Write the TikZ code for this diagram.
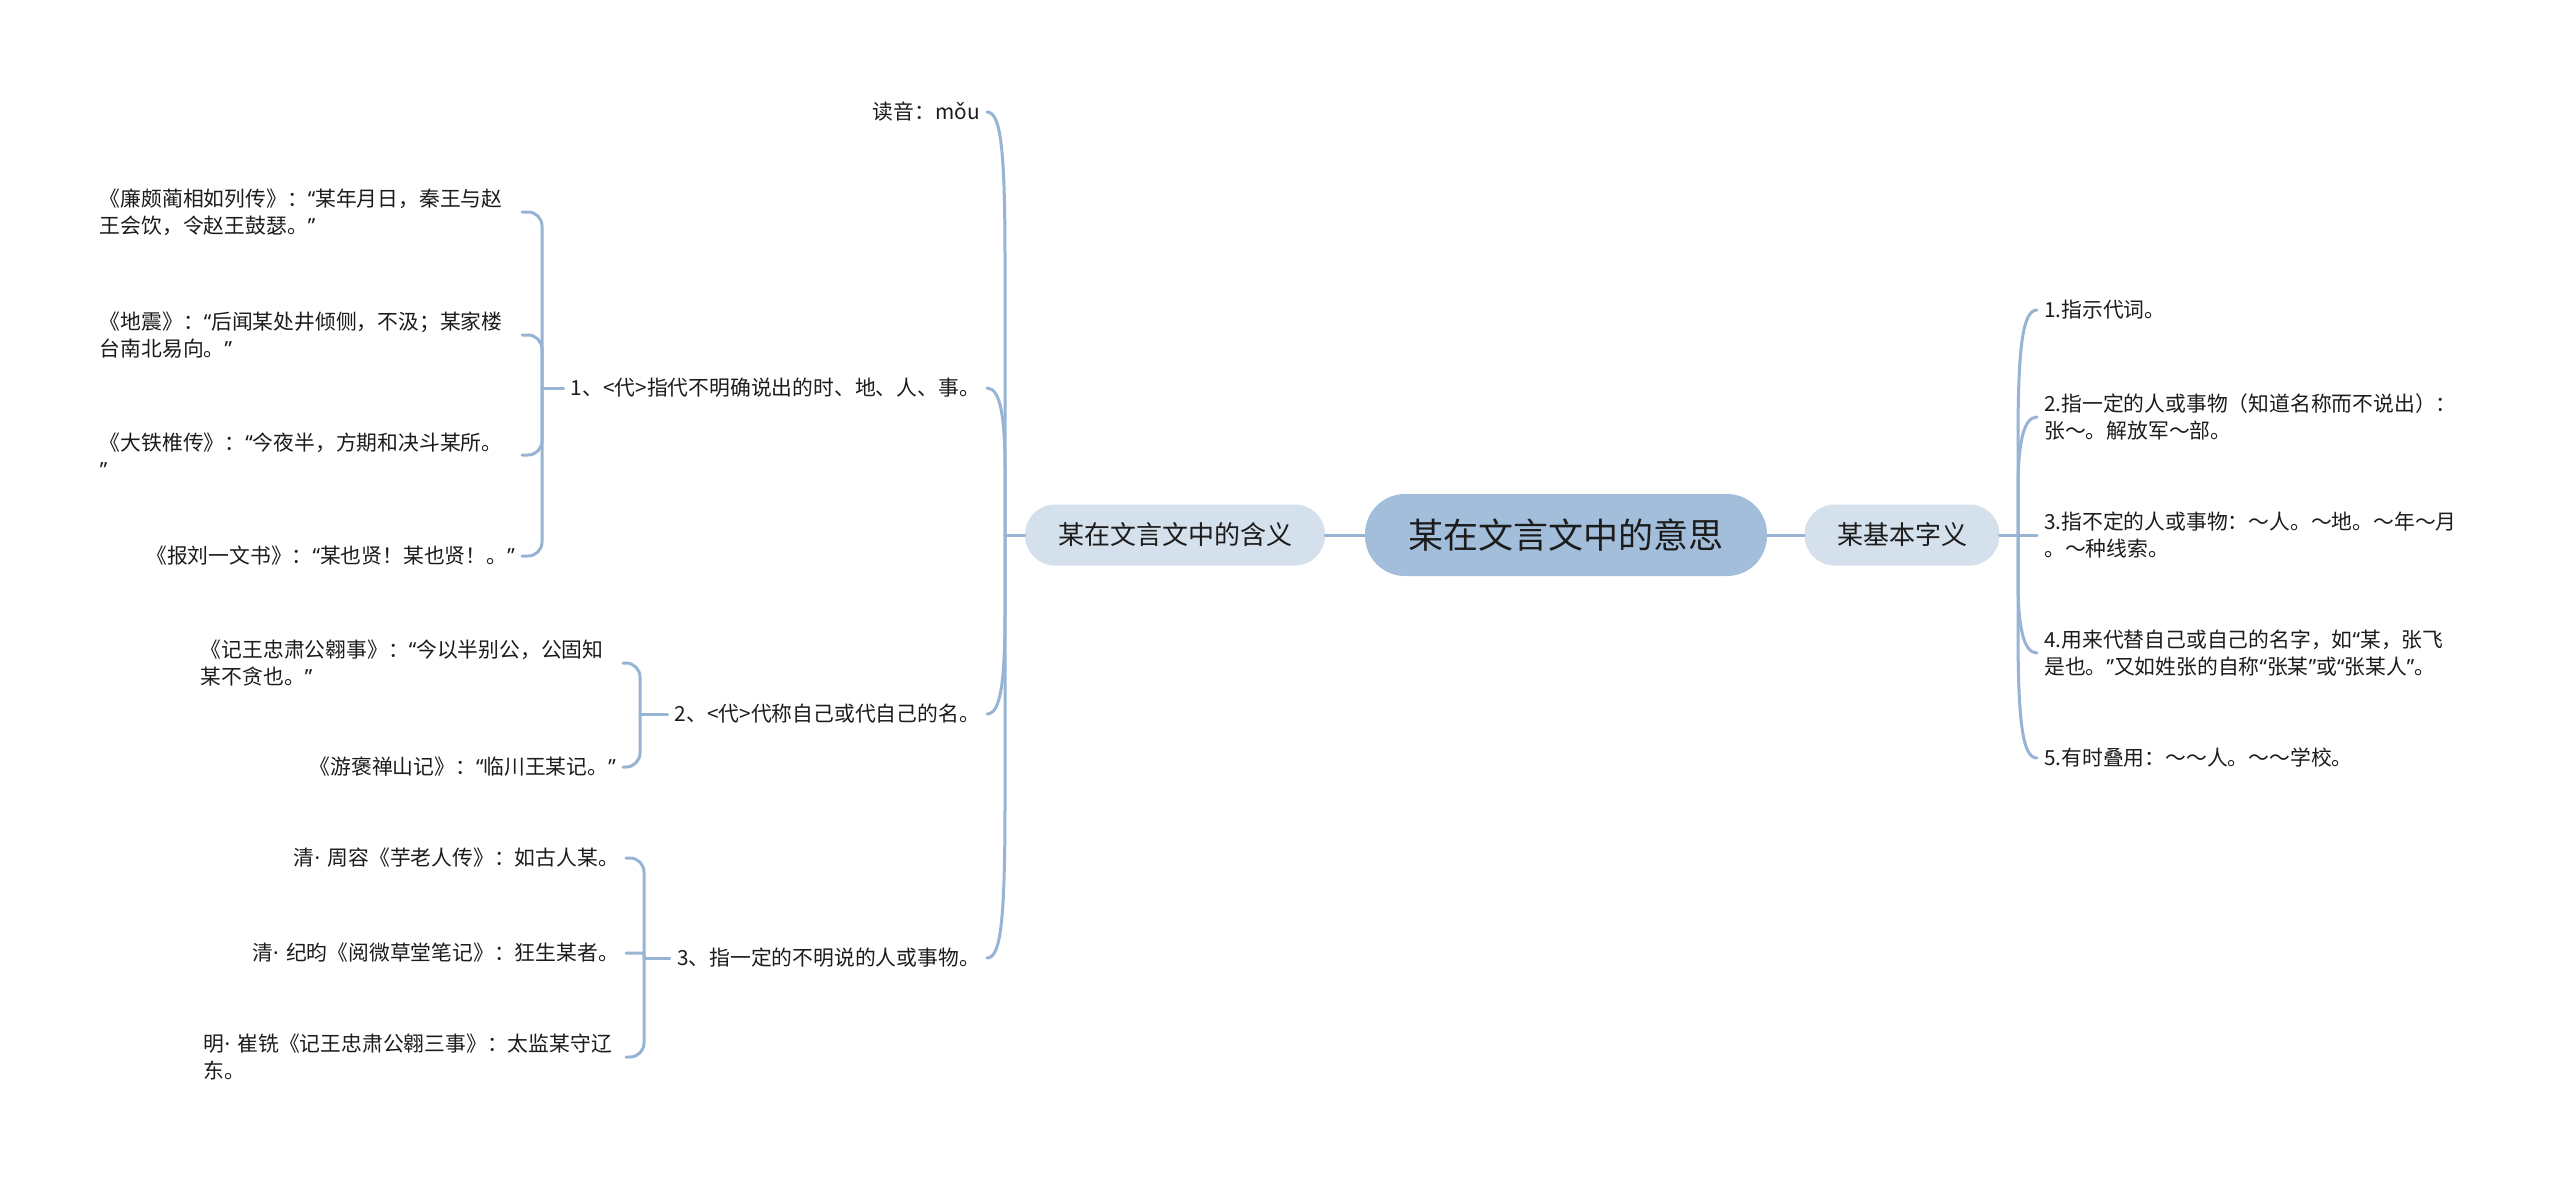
\documentclass[tikz,border=0pt]{standalone}
\usepackage{fontspec}
\setmainfont{Noto Sans CJK SC}
\newfontfamily\qf{Noto Sans}
\newcommand\oq{{\qf “}}
\newcommand\cq{{\qf ”}}
\newcommand\md{{\qf ·}\hspace{0.35em}}
\definecolor{lnc}{HTML}{98B4D4}
\definecolor{ctrfill}{HTML}{A2BEDB}
\definecolor{subfill}{HTML}{D4E0EB}
\definecolor{txt}{HTML}{1C1C1C}
\begin{document}
\begin{tikzpicture}[x=1pt,y=-1pt,
  conn/.style={draw=lnc, line width=3pt, line cap=round},
  leaf/.style={font=\fontsize{20.8}{27}\selectfont, text=txt, inner xsep=7pt, inner ysep=2pt, align=left},
  wrapleaf/.style={leaf, text width=415pt},
  ctr/.style={fill=ctrfill, rounded corners=40pt, minimum width=402pt, minimum height=82pt, font=\fontsize{35}{40}\selectfont, text=txt},
  sub/.style={fill=subfill, rounded corners=30pt, minimum height=61pt, font=\fontsize{26}{30}\selectfont, text=txt}
]
\fill[white] (0,0) rectangle (2560,1181);
\useasboundingbox (0,0) rectangle (2560,1181);

% main nodes
\node[ctr] (root) at (1566,535) {某在文言文中的意思};
\node[sub, minimum width=300pt] (L) at (1175,535) {某在文言文中的含义};
\node[sub, minimum width=195pt] (R) at (1902,535) {某基本字义};
\draw[conn] (root.west) -- (L.east);
\draw[conn] (root.east) -- (R.west);

\coordinate (jL) at (1005,535);
\coordinate (jR) at (2018,535);
\draw[conn] (L.west) -- (jL);
\draw[conn] (R.east) -- (jR);

% left level 2
\node[leaf, anchor=east] (yin) at (987,112) {读音：mǒu};
\node[leaf, anchor=east] (d1) at (987,388) {1、<代>指代不明确说出的时、地、人、事。};
\node[leaf, anchor=east] (d2) at (987,714) {2、<代>代称自己或代自己的名。};
\node[leaf, anchor=east] (d3) at (987,958) {3、指一定的不明说的人或事物。};

\draw[conn] (jL) -- (1005,262) .. controls (1005,150) and (1001,112) .. (yin.east);
\draw[conn] (jL) -- (1005,470) .. controls (1005,420) and (1001,388) .. (d1.east);
\draw[conn] (jL) -- (1005,610) .. controls (1005,680) and (1001,714) .. (d2.east);
\draw[conn] (jL) -- (1005,800) .. controls (1005,920) and (1001,958) .. (d3.east);

% bracket 1
\coordinate (j1) at (542,388);
\draw[conn] (d1.west) -- (j1);
\node[wrapleaf, anchor=east] (a1) at (522,212) {《廉颇蔺相如列传》：\oq 某年月日，秦王与赵\\王会饮，令赵王鼓瑟。\cq};
\node[wrapleaf, anchor=east] (a2) at (522,335) {《地震》：\oq 后闻某处井倾侧，不汲；某家楼\\台南北易向。\cq};
\node[wrapleaf, anchor=east] (a3) at (522,455) {《大铁椎传》：\oq 今夜半，方期和决斗某所。\\\cq};
\node[leaf, anchor=east] (a4) at (522,556) {《报刘一文书》：\oq 某也贤！某也贤！。\cq};
\draw[conn, rounded corners=14pt] (j1) |- (a1.east);
\draw[conn, rounded corners=14pt] (j1) |- (a2.east);
\draw[conn, rounded corners=14pt] (j1) |- (a3.east);
\draw[conn, rounded corners=14pt] (j1) |- (a4.east);

% bracket 2
\coordinate (j2) at (640,714);
\draw[conn] (d2.west) -- (j2);
\node[wrapleaf, anchor=east] (b1) at (623,663) {《记王忠肃公翱事》：\oq 今以半别公，公固知\\某不贪也。\cq};
\node[leaf, anchor=east] (b2) at (623,767) {《游褒禅山记》：\oq 临川王某记。\cq};
\draw[conn, rounded corners=14pt] (j2) |- (b1.east);
\draw[conn, rounded corners=14pt] (j2) |- (b2.east);

% bracket 3
\coordinate (j3) at (644,958);
\draw[conn] (d3.west) -- (j3);
\node[leaf, anchor=east] (c1) at (626,858) {清\md 周容《芋老人传》：如古人某。};
\node[leaf, anchor=east] (c2) at (626,953) {清\md 纪昀《阅微草堂笔记》：狂生某者。};
\node[wrapleaf, anchor=east] (c3) at (626,1057) {明\md 崔铣《记王忠肃公翱三事》：太监某守辽\\东。};
\draw[conn, rounded corners=14pt] (j3) |- (c1.east);
\draw[conn, rounded corners=2pt] (j3) |- (c2.east);
\draw[conn, rounded corners=14pt] (j3) |- (c3.east);

% right level 2
\node[leaf, anchor=west] (r1) at (2037,310) {1.指示代词。};
\node[leaf, anchor=west] (r2) at (2037,417) {2.指一定的人或事物（知道名称而不说出）：\\张～。解放军～部。};
\node[leaf, anchor=west] (r3) at (2037,535) {3.指不定的人或事物：～人。～地。～年～月\\。～种线索。};
\node[leaf, anchor=west] (r4) at (2037,653) {4.用来代替自己或自己的名字，如\oq 某，张飞\\是也。\cq 又如姓张的自称\oq 张某\cq 或\oq 张某人\cq 。};
\node[leaf, anchor=west] (r5) at (2037,758) {5.有时叠用：～～人。～～学校。};

\draw[conn] (jR) -- (2018,440) .. controls (2018,345) and (2023,310) .. (r1.west);
\draw[conn] (jR) -- (2018,490) .. controls (2018,445) and (2023,417) .. (r2.west);
\draw[conn] (jR) -- (r3.west);
\draw[conn] (jR) -- (2018,580) .. controls (2018,625) and (2023,653) .. (r4.west);
\draw[conn] (jR) -- (2018,630) .. controls (2018,725) and (2023,758) .. (r5.west);
\end{tikzpicture}
\end{document}
